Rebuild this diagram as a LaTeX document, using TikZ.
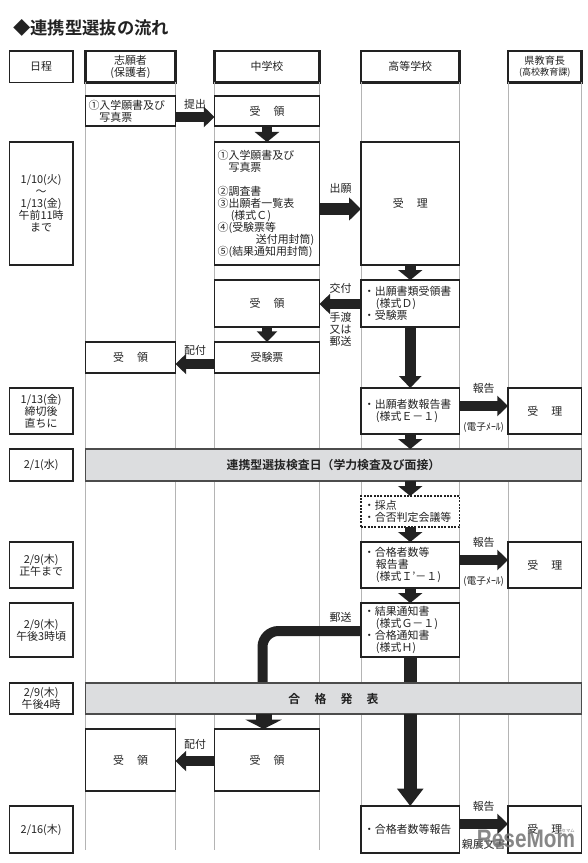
\documentclass[tikz,border=0pt]{standalone}
\usepackage{fontspec}
\setmainfont{Noto Sans CJK JP}[BoldFont={Noto Sans CJK JP Bold}]
\newfontfamily\wmfont{Liberation Sans}
\usetikzlibrary{arrows.meta}
\definecolor{ink}{HTML}{222222}
\definecolor{barfill}{HTML}{DCDDDF}
\definecolor{gridc}{HTML}{B4B4B4}
\tikzset{
  base/.style={draw=ink,text=ink,fill=white,rectangle,inner sep=0pt,outer sep=0pt,line width=.85pt,align=center,font=\fontsize{8.2}{9}\selectfont},
  headbox/.style={base,line width=1.6pt},
  lbox/.style={base,align=left,inner xsep=2pt},
  barbox/.style={base,fill=barfill,draw=black!70,font=\fontsize{8.9}{9}\selectfont\bfseries},
  dashbox/.style={lbox,dashed,dash pattern=on 1.5pt off 1pt},
  lab/.style={text=ink,inner sep=0pt,align=center,font=\fontsize{8.2}{9}\selectfont},
  tiny/.style={text=ink,inner sep=0pt,font=\fontsize{7.3}{8}\selectfont},
  gridl/.style={draw=gridc,line width=.5pt},
  ba/.style={draw=ink,line width=7.5pt,-{Triangle[length=8pt,width=15pt]}},
  bd/.style={draw=ink,line width=8pt,-{Triangle[length=7.5pt,width=18pt]}},
  be/.style={draw=ink,line width=8.3pt,-{Triangle[length=9pt,width=16.5pt]}},
  bf/.style={draw=ink,line width=9.4pt,-{Triangle[length=13pt,width=19pt]}},
  bh/.style={draw=ink,line width=8.3pt,-{Triangle[length=9pt,width=17pt]}},
  bg/.style={draw=ink,line width=12pt,-{Triangle[length=7pt,width=27pt]}},
  plainb/.style={draw=ink,line width=9.4pt},
  curveb/.style={draw=ink,line width=7.5pt,rounded corners=12pt},
}
\newcommand\mybox[7]{\node[#2,minimum width={(#5-#3)*0.75pt},minimum height={(#6-#4)*0.75pt}] (#1) at ({(#3+#5)/2},{(#4+#6)/2}) {#7};}
\begin{document}
\begin{tikzpicture}[x=.75pt,y=-.75pt]
\useasboundingbox (0,0) rectangle (588,863);
\fill[white] (0,0) rectangle (588,863);
\node[text=ink,anchor=west,inner sep=0pt,font=\fontsize{13}{14}\selectfont\bfseries] (title) at (13,28) {◆連携型選抜の流れ};
% headers
\mybox{hdate}{base}{9.3}{51}{73}{82.5}{日程}
\mybox{hs}{headbox}{85.5}{51}{175.5}{82.5}{志願者\\(保護者)}
\mybox{hm}{headbox}{214.5}{51}{319.5}{82.5}{中学校}
\mybox{hh}{headbox}{361}{51}{459.5}{82.5}{高等学校}
\mybox{hk}{headbox,font=\fontsize{7.6}{8.6}\selectfont}{508}{51}{581.5}{82.5}{県教育長\\{\fontsize{6.8}{8}\selectfont(高校教育課)}}
% grid
\coordinate (gs1) at (hs.south west|-0,850);
\draw[gridl] (hs.south west) -- (gs1);
\coordinate (gs2) at (hs.south east|-0,850);
\draw[gridl] (hs.south east) -- (gs2);
\coordinate (gm1) at (hm.south west|-0,850);
\draw[gridl] (hm.south west) -- (gm1);
\coordinate (gm2) at (hm.south east|-0,850);
\draw[gridl] (hm.south east) -- (gm2);
\coordinate (gh1) at (hh.south west|-0,850);
\draw[gridl] (hh.south west) -- (gh1);
\coordinate (gh2) at (hh.south east|-0,850);
\draw[gridl] (hh.south east) -- (gh2);
\coordinate (gk1) at (hk.south west|-0,850);
\draw[gridl] (hk.south west) -- (gk1);
\coordinate (gk2) at (hk.south east|-0,850);
\draw[gridl] (hk.south east) -- (gk2);
\coordinate (c1) at (262.5,683);
% rows
\mybox{s1}{lbox,text width=63pt}{85.5}{96}{175.5}{126}{①入学願書及び\\\hspace*{1em}写真票}
\mybox{m1}{base}{214.5}{96}{319.5}{126}{受\hspace{1.2em}領}
\mybox{d2}{base}{9.3}{142}{73}{265}{1/10(火)\\～\\1/13(金)\\午前11時\\まで}
\mybox{m2}{lbox,text width=74pt}{214.5}{142}{319.5}{265}{①入学願書及び\\\hspace*{1em}写真票\\[9pt]②調査書\\③出願者一覧表\\\hspace*{1.2em}(様式Ｃ)\\④(受験票等\\\hspace*{3.5em}送付用封筒)\\⑤(結果通知用封筒)}
\mybox{h2}{base}{361}{142}{459.5}{265}{受\hspace{1.2em}理}
\mybox{m3}{base}{214.5}{280}{319.5}{327}{受\hspace{1.2em}領}
\mybox{h3}{lbox,text width=69.5pt}{361}{280}{459.5}{327}{・出願書類受領書\\\hspace*{1.1em}(様式Ｄ)\\・受験票}
\mybox{s4}{base}{85.5}{342}{175.5}{373}{受\hspace{1.2em}領}
\mybox{m4}{base}{214.5}{342}{319.5}{373}{受験票}
\mybox{d5}{base}{9.3}{388}{73}{434}{1/13(金)\\締切後\\直ちに}
\mybox{h5}{lbox,text width=69.5pt}{361}{388}{459.5}{434}{・出願者数報告書\\\hspace*{1.1em}(様式Ｅ－１)}
\mybox{k5}{base}{508}{388}{581.5}{434}{受\hspace{1.2em}理}
\mybox{d6}{base}{9.3}{449}{73}{481}{2/1(水)}
\mybox{bar1}{barbox}{85.5}{449}{581.5}{481}{連携型選抜検査日（学力検査及び面接）}
\mybox{h7}{dashbox,text width=69.5pt}{361}{496}{459.5}{527}{・採点\\・合否判定会議等}
\mybox{d8}{base}{9.3}{542}{73}{588}{2/9(木)\\正午まで}
\mybox{h8}{lbox,text width=69.5pt}{361}{542}{459.5}{588}{・合格者数等\\\hspace*{1.1em}報告書\\\hspace*{1.1em}(様式Ｉ’－１)}
\mybox{k8}{base}{508}{542}{581.5}{588}{受\hspace{1.2em}理}
\mybox{d9}{base}{9.3}{603}{73}{657}{2/9(木)\\午後3時頃}
\mybox{h9}{lbox,text width=69.5pt}{361}{603}{459.5}{657}{・結果通知書\\\hspace*{1.1em}(様式Ｇ－１)\\・合格通知書\\\hspace*{1.1em}(様式Ｈ)}
\mybox{d10}{base}{9.3}{683}{73}{714}{2/9(木)\\午後4時}
\mybox{s11}{base}{85.5}{729}{175.5}{791}{受\hspace{1.2em}領}
\mybox{m11}{base}{214.5}{729}{319.5}{791}{受\hspace{1.2em}領}
\mybox{d12}{base}{9.3}{806}{73}{853}{2/16(木)}
\mybox{h12}{lbox,text width=69.5pt}{361}{806}{459.5}{853}{・合格者数等報告}
\mybox{k12}{base}{508}{806}{581.5}{853}{受\hspace{1.2em}理}
% connectors
\draw[ba] (s1.east|-0,117) -- (m1.west|-0,117);
\draw[bd] (m1.south) -- (m2.north);
\draw[bh] (m2.east|-0,209) -- (h2.west|-0,209);
\draw[bd] (h2.south) -- (h3.north);
\draw[ba] (h3.west|-0,304) -- (m3.east|-0,304);
\draw[ba] (m3.south) -- (m4.north);
\draw[ba] (m4.west|-0,364) -- (s4.east|-0,364);
\draw[be] (h3.south) -- (h5.north);
\draw[ba] (h5.east|-0,406) -- (k5.west|-0,406);
\draw[bd] (h5.south) -- (bar1.north-|h5.south);
\draw[bd] (bar1.south-|h7.north) -- (h7.north);
\draw[bd] (h7.south) -- (h8.north);
\draw[ba] (h8.east|-0,560) -- (k8.west|-0,560);
\draw[bd] (h8.south) -- (h9.north);
\draw[curveb] (h9.west|-0,631) -- (262.5,631) -- (c1);
\draw[plainb] (h9.south) -- (h9.south|-0,684);
\mybox{bar2}{barbox}{85.5}{683}{581.5}{714}{合\hspace{1.2em}格\hspace{1.2em}発\hspace{1.2em}表}
\draw[bf] (bar2.south-|h12.north) -- (h12.north);
\draw[bg] (m11.north|-bar2.south) ++(-3.4,0) -- ++(0,15);
\draw[ba] (m11.west|-0,761) -- (s11.east|-0,761);
\draw[ba] (h12.east|-0,824) -- (k12.west|-0,824);
% labels
\node[lab] (l1) at (195,104) {提出};
\node[lab] (l2) at (340.5,188) {出願};
\node[lab] (l3) at (340.5,288) {交付};
\node[lab] (l4) at (340.5,329.5) {手渡\\又は\\郵送};
\node[lab] (l5) at (195,350) {配付};
\node[lab] (l6) at (483.7,388) {報告};
\node[tiny] (l7) at (483.7,427) {(電子ﾒｰﾙ)};
\node[lab] (l8) at (483.7,542) {報告};
\node[tiny] (l9) at (483.7,581) {(電子ﾒｰﾙ)};
\node[lab] (l10) at (340.5,617) {郵送};
\node[lab] (l11) at (195,744) {配付};
\node[lab] (l12) at (483.7,806) {報告};
\node[lab] (l13) at (483.7,844) {親展文書};
% watermark
\node[text=black!55,opacity=.85,inner sep=0pt,font=\wmfont\bfseries\fontsize{19}{22}\selectfont] (wm) at (526,839) {\scalebox{.82}[1]{ReseMom}};
\node[text=black!55,inner sep=0pt,font=\fontsize{3.2}{4}\selectfont] (wm2) at (566,831) {リセマム};
\end{tikzpicture}
\end{document}
